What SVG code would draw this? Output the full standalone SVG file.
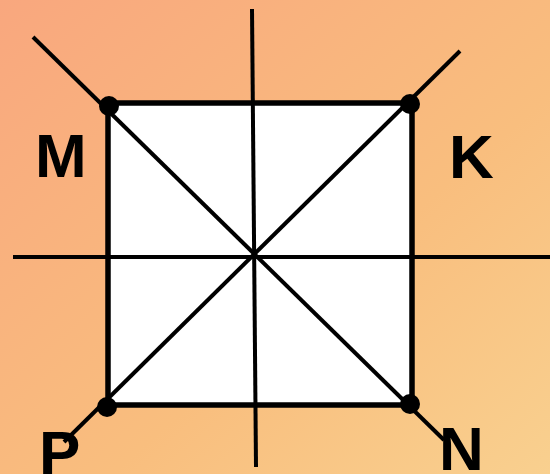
<svg xmlns="http://www.w3.org/2000/svg" width="550" height="474" viewBox="0 0 550 474">
<defs>
<linearGradient id="bg" x1="0" y1="0" x2="1" y2="1">
<stop offset="0" stop-color="#F9A77E"/>
<stop offset="0.6" stop-color="#F9BE7E"/>
<stop offset="1" stop-color="#F9D08F"/>
</linearGradient>
<style>
.ln{stroke:#000;stroke-width:4;fill:none}
.sq{stroke:#000;stroke-width:5.5;fill:#fff}
.dot{fill:#000}
.lb{font-family:"Liberation Sans",Arial,sans-serif;font-weight:bold;font-size:62px;fill:#000}
</style>
</defs>
<rect width="550" height="474" fill="url(#bg)"/>
<g id="square"><rect class="sq" x="108" y="103" width="304" height="302"/></g>
<g id="connectors">
<line class="ln" x1="252" y1="9" x2="256" y2="467"/>
<line class="ln" x1="13" y1="257" x2="550" y2="257"/>
<line class="ln" x1="33" y1="37" x2="444" y2="440"/>
<line class="ln" x1="460" y1="51" x2="64" y2="442"/>
</g>
<g id="M"><circle class="dot" cx="109" cy="106" r="10"/><text class="lb" x="35" y="177">M</text></g>
<g id="K"><circle class="dot" cx="410" cy="104" r="10"/><text class="lb" x="449" y="178">K</text></g>
<g id="P"><circle class="dot" cx="107" cy="407" r="10"/><text class="lb" x="39" y="474">P</text></g>
<g id="N"><circle class="dot" cx="410" cy="404" r="10"/><text class="lb" x="439" y="470">N</text></g>
</svg>
